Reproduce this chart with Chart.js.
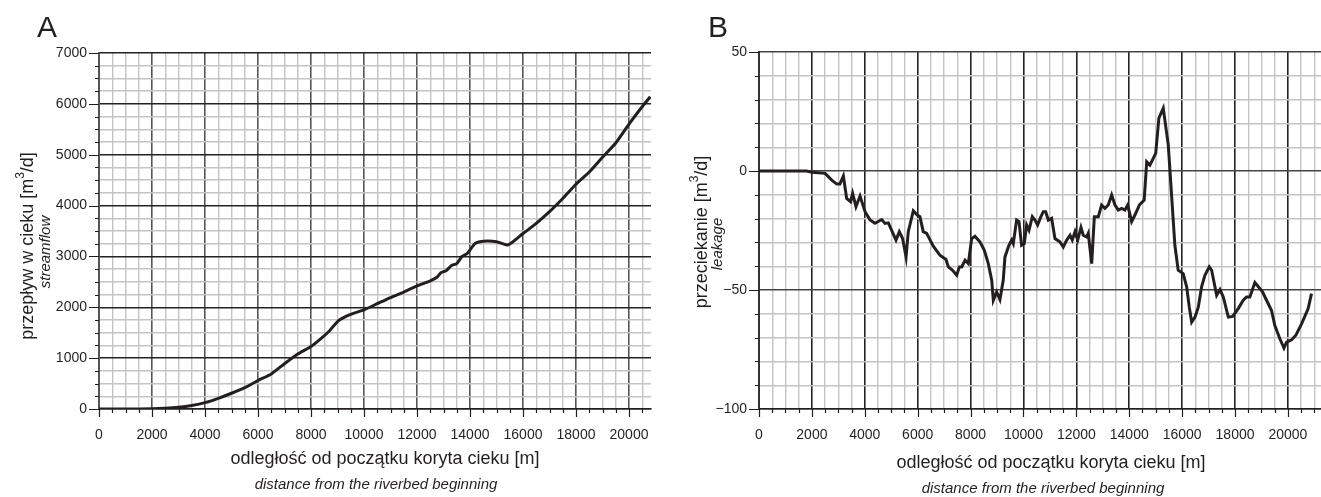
<!DOCTYPE html>
<html>
<head>
<meta charset="utf-8">
<script src="https://cdn.jsdelivr.net/npm/chart.js@4.4.1/dist/chart.umd.min.js"></script>
<style>
  body { margin: 0; background: #fff; }
  #wrap { position: relative; width: 1321px; height: 497px; }
  canvas { position: absolute; top: 0; }
  #chartA { left: 0; }
  #chartB { left: 660px; }
</style>
</head>
<body>
<div id="wrap">
  <canvas id="chartA" width="660" height="497"></canvas>
  <canvas id="chartB" width="661" height="497"></canvas>
</div>
<script>
// A - streamflow along the river
var flowDist = [0, 1000, 2000, 2500, 3000, 3500, 4000, 4500, 5000, 5500, 6000, 6500, 7000, 7500,
  8000, 8340, 8700, 9000, 9300, 9600, 10000, 10500, 11000, 11500, 12000, 12500, 12750, 12900,
  13100, 13300, 13500, 13700, 13900, 14000, 14200, 14500, 15000, 15400, 15600, 16000, 16500,
  17000, 17500, 18000, 18500, 19000, 19500, 20000, 20400, 20800]
var flowValue = [0, 0, 5, 15, 35, 70, 125, 210, 310, 420, 560, 690, 890, 1080,
  1230, 1370, 1540, 1720, 1815, 1880, 1950, 2070, 2190, 2300, 2420, 2520, 2590, 2680,
  2720, 2820, 2860, 3000, 3060, 3130, 3260, 3300, 3290, 3225, 3280, 3450, 3650,
  3880, 4140, 4420, 4660, 4950, 5230, 5600, 5880, 6140]

// B - leakage
var leakDist = [0, 1000, 1800, 2000, 2500, 2750, 2940, 3060, 3190, 3315, 3465, 3540, 3667, 3820,
  4010, 4200, 4385, 4640, 4765, 4890, 5180, 5305, 5430, 5560, 5645, 5835, 5985, 6085, 6210,
  6340, 6590, 6840, 7070, 7160, 7320, 7475, 7575, 7665, 7790, 7915, 8040, 8165, 8355, 8520,
  8670, 8800, 8860, 8985, 9110, 9235, 9300, 9450, 9555, 9615, 9740, 9830, 9930, 10030, 10120,
  10210, 10335, 10435, 10535, 10660, 10750, 10840, 10940, 11065, 11190, 11380, 11505, 11635,
  11760, 11845, 11950, 12050, 12175, 12260, 12390, 12450, 12580, 12680, 12830, 12955, 13080,
  13205, 13335, 13460, 13585, 13710, 13835, 13940, 14090, 14215, 14380, 14565, 14660, 14780,
  15000, 15120, 15285, 15475, 15600, 15725, 15850, 16040, 16170, 16270, 16360, 16485, 16610,
  16735, 16860, 17025, 17115, 17305, 17430, 17555, 17745, 17910, 18120, 18310, 18435, 18560,
  18750, 19040, 19190, 19380, 19505, 19695, 19850, 19950, 20140, 20300, 20515, 20765, 20890]
var leakValue = [0, 0, 0, -0.5, -1, -3.8, -5.5, -5.5, -2.1, -11.5, -12.9, -9.4, -15, -10.5,
  -17.1, -20.6, -22, -20.4, -22, -21.8, -29, -25.5, -28.4, -36.1, -25.5, -16.7, -18.5, -19.2, -25.5,
  -26.2, -31.6, -35.4, -37.2, -40.3, -41.7, -43.8, -40.3, -40.3, -37.5, -38.9, -28.4, -27.4, -29.8, -33.3,
  -38.9, -46, -54.3, -50.8, -54, -45.9, -36.1, -31.2, -29, -30.5, -20.6, -21.3, -31.2, -30.5, -22.7,
  -24.9, -19.2, -20.6, -22.7, -19.2, -17.1, -17.1, -20.6, -19.9, -28.4, -29.8, -31.9, -29,
  -27, -29, -25.5, -29, -23.7, -27, -27.7, -26.2, -38.9, -19.2, -19.2, -14.3, -15.7,
  -14.3, -10.1, -14.3, -16.4, -15.7, -16.4, -14.3, -21.3, -18.5, -14.3, -12.2, 3.9, 2.5,
  7.4, 22.2, 26.4, 11, -10.1, -31.2, -41.7, -43.1, -48.7, -57.2, -63.5, -61.4, -57.2,
  -48.7, -43.8, -40.3, -41.7, -52.2, -49.8, -52.9, -61.4, -61.1, -57.8, -54.3, -52.9, -52.9,
  -46.9, -50.8, -54.3, -58.6, -64.9, -70.5, -74.4, -71.9, -70.9, -69, -64.2, -57.8, -51.5]

var xTickLabels = [0, 2000, 4000, 6000, 8000, 10000, 12000, 14000, 16000, 18000, 20000]
var yTickLabelsA = [0, 1000, 2000, 3000, 4000, 5000, 6000, 7000]
var yTickLabelsB = [-100, -50, 0, 50]

var FONT = '"Liberation Sans", Arial, sans-serif'
var INK = '#231f20'
var MINOR = '#c4c4c4'
Chart.defaults.font.family = FONT
Chart.defaults.font.size = 14
Chart.defaults.color = INK

function steps (from, to, step) {
  var out = []
  for (var v = from; v <= to + 1e-9; v += step) out.push({ value: v })
  return out
}

// small tick marks outside the plot, longer at labelled values
var tickMarks = {
  id: 'tickMarks',
  afterDraw: function (chart, args, o) {
    var ctx = chart.ctx, a = chart.chartArea
    var sx = chart.scales.x, sy = chart.scales.y
    ctx.save()
    ctx.strokeStyle = INK
    ctx.lineWidth = 1.2
    ctx.beginPath()
    sx.ticks.forEach(function (t) {
      var px = Math.round(sx.getPixelForValue(t.value)) + 0.5
      var len = xTickLabels.indexOf(t.value) !== -1 ? 8 : 4
      ctx.moveTo(px, a.bottom)
      ctx.lineTo(px, a.bottom + len)
    })
    sy.ticks.forEach(function (t) {
      var py = Math.round(sy.getPixelForValue(t.value)) + 0.5
      var len = o.yLabels.indexOf(t.value) !== -1 ? 10 : 4
      ctx.moveTo(a.left, py)
      ctx.lineTo(a.left - len, py)
    })
    ctx.stroke()
    ctx.restore()
  }
}

// panel letter and axis titles (two lines, with superscript)
var panelText = {
  id: 'panelText',
  afterDraw: function (chart, args, o) {
    var ctx = chart.ctx
    ctx.save()
    ctx.fillStyle = INK
    ctx.textBaseline = 'alphabetic'
    ctx.font = '30px ' + FONT
    ctx.textAlign = 'left'
    ctx.fillText(o.letter, o.letterX, o.letterY)

    ctx.textAlign = 'center'
    ctx.font = '18px ' + FONT
    ctx.fillText(o.xTitle, o.xTitleX, o.xTitleY)
    ctx.font = 'italic 15px ' + FONT
    ctx.fillText(o.xSub, o.xSubX, o.xSubY)

    ctx.save()
    ctx.translate(o.yTitleX, o.yTitleY)
    ctx.rotate(-Math.PI / 2)
    ctx.textAlign = 'left'
    ctx.font = '18px ' + FONT
    var w1 = ctx.measureText(o.yTitle[0]).width
    var w3 = ctx.measureText(o.yTitle[2]).width
    ctx.font = '12px ' + FONT
    var w2 = ctx.measureText(o.yTitle[1]).width
    var x0 = -(w1 + w2 + w3) / 2
    ctx.font = '18px ' + FONT
    ctx.fillText(o.yTitle[0], x0, 0)
    ctx.fillText(o.yTitle[2], x0 + w1 + w2, 0)
    ctx.font = '12px ' + FONT
    ctx.fillText(o.yTitle[1], x0 + w1, -9)
    ctx.restore()

    ctx.save()
    ctx.translate(o.ySubX, o.ySubY)
    ctx.rotate(-Math.PI / 2)
    ctx.textAlign = 'center'
    ctx.font = 'italic 15px ' + FONT
    ctx.fillText(o.ySub, 0, 0)
    ctx.restore()
    ctx.restore()
  }
}

function makeChart (id, xs, ys, cfg) {
  var pts = xs.map(function (x, i) { return { x: x, y: ys[i] } })
  return new Chart(document.getElementById(id), {
    type: 'line',
    data: {
      datasets: [{
        data: pts,
        borderColor: INK,
        borderWidth: 3,
        pointRadius: 0,
        tension: cfg.tension,
        fill: false
      }]
    },
    options: {
      responsive: false,
      animation: false,
      devicePixelRatio: 1,
      layout: { padding: { top: cfg.top, right: cfg.right, left: 0, bottom: 0 } },
      plugins: {
        legend: { display: false },
        tooltip: { enabled: false },
        tickMarks: { yLabels: cfg.yLabels },
        panelText: cfg.text
      },
      scales: {
        x: {
          type: 'linear',
          min: 0,
          max: cfg.xMax,
          afterBuildTicks: function (s) { s.ticks = steps(0, cfg.xMax, 500) },
          afterFit: function (s) {
            s.height = 88
            s.paddingLeft = 0
            s.paddingRight = 0
          },
          ticks: {
            autoSkip: false,
            maxRotation: 0,
            padding: 18,
            callback: function (v) { return xTickLabels.indexOf(v) !== -1 ? String(v) : '' }
          },
          grid: {
            drawTicks: false,
            color: function (c) { return c.tick.value % 2000 === 0 ? cfg.xMajorColor : MINOR },
            lineWidth: function (c) { return c.tick.value % 2000 === 0 ? 1.6 : 1.4 }
          },
          border: { color: INK, width: 1.5 }
        },
        y: {
          min: cfg.yMin,
          max: cfg.yMax,
          afterBuildTicks: function (s) { s.ticks = steps(cfg.yMin, cfg.yMax, cfg.yStep) },
          afterFit: function (s) { s.width = 99 },
          ticks: {
            autoSkip: false,
            padding: 12,
            callback: function (v) {
              if (cfg.yLabels.indexOf(v) === -1) return ''
              return v < 0 ? '\u2212' + Math.abs(v) : String(v)
            }
          },
          grid: {
            drawTicks: false,
            color: function (c) { return c.tick.value % cfg.yMajor === 0 ? cfg.yMajorColor : MINOR },
            lineWidth: function (c) { return c.tick.value % cfg.yMajor === 0 ? 1.5 : 1.4 }
          },
          border: { color: cfg.yBorder, width: 2 }
        }
      }
    },
    plugins: [tickMarks, panelText]
  })
}

makeChart('chartA', flowDist, flowValue, {
  tension: 0.2, top: 53, right: 9, xMax: 20830,
  yMin: 0, yMax: 7000, yStep: 250, yMajor: 1000, yLabels: yTickLabelsA,
  xMajorColor: '#555555', yMajorColor: '#222222', yBorder: '#555555',
  text: {
    letter: 'A', letterX: 37, letterY: 37,
    xTitle: 'odległość od początku koryta cieku [m]', xTitleX: 385, xTitleY: 464,
    xSub: 'distance from the riverbed beginning', xSubX: 376, xSubY: 489,
    yTitle: ['przepływ w cieku [m', '3', '/d]'], yTitleX: 33, yTitleY: 246,
    ySub: 'streamflow', ySubX: 50, ySubY: 252
  }
})

makeChart('chartB', leakDist, leakValue, {
  tension: 0, top: 52, right: 0, xMax: 21250,
  yMin: -100, yMax: 50, yStep: 10, yMajor: 50, yLabels: yTickLabelsB,
  xMajorColor: '#222222', yMajorColor: '#444444', yBorder: '#333333',
  text: {
    letter: 'B', letterX: 48, letterY: 37,
    xTitle: 'odległość od początku koryta cieku [m]', xTitleX: 391, xTitleY: 468,
    xSub: 'distance from the riverbed beginning', xSubX: 383, xSubY: 493,
    yTitle: ['przeciekanie [m', '3', '/d]'], yTitleX: 47, yTitleY: 232,
    ySub: 'leakage', ySubX: 62, ySubY: 244
  }
})
</script>
</body>
</html>
